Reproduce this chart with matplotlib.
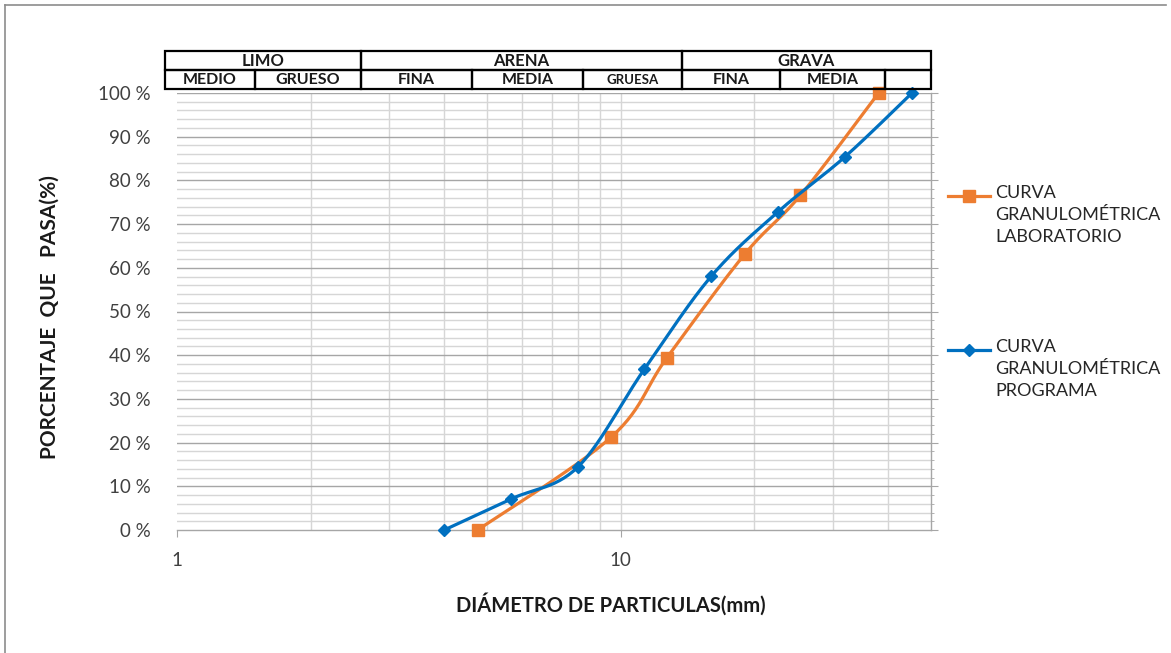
import matplotlib
matplotlib.use("Agg")
import matplotlib.pyplot as plt
import numpy as np
from matplotlib.lines import Line2D
from matplotlib.patches import Rectangle
from matplotlib.ticker import FixedLocator, NullFormatter

plt.rcParams['font.family'] = ['Lato', 'DejaVu Sans']

# sieve openings (mm) and percent passing
lab_d = [4.76, 9.525, 12.7, 19.05, 25.4, 38.1]
lab_pct = [0.0, 21.3, 39.4, 63.2, 76.6, 100.0]
prog_d = [4.0, 5.66, 8.0, 11.3, 16.0, 22.6, 32.0, 45.3]
prog_pct = [0.0, 7.1, 14.4, 36.8, 58.1, 72.8, 85.4, 100.0]

lab_label = "CURVA\nGRANULOMÉTRICA\nLABORATORIO"
prog_label = "CURVA\nGRANULOMÉTRICA\nPROGRAMA"

top_groups = ["LIMO", "ARENA", "GRAVA"]
sub_groups = ["MEDIO", "GRUESO", "FINA", "MEDIA", "GRUESA", "FINA", "MEDIA", ""]

ORANGE = "#ED7D31"
BLUE = "#0070C0"

W, H = 1171, 653


def fx(px):
    return px / W


def fy(py):
    return 1 - py / H


def smooth(xs, ys, n=30):
    # Excel-like smoothed line: Catmull-Rom bezier in screen-ish space (log x)
    u = np.log10(np.asarray(xs, float)) * 443.0
    v = np.asarray(ys, float) * 4.37
    P = np.column_stack([u, v])
    out = [P[0]]
    for i in range(len(P) - 1):
        p0 = P[i - 1] if i > 0 else P[i]
        p1, p2 = P[i], P[i + 1]
        p3 = P[i + 2] if i + 2 < len(P) else P[i + 1]
        c1 = p1 + (p2 - p0) / 6.0
        c2 = p2 - (p3 - p1) / 6.0
        t = np.linspace(0, 1, n)[1:, None]
        seg = ((1 - t) ** 3) * p1 + 3 * ((1 - t) ** 2) * t * c1 + 3 * (1 - t) * t ** 2 * c2 + t ** 3 * p2
        out.extend(seg)
    out = np.array(out)
    return 10 ** (out[:, 0] / 443.0), out[:, 1] / 4.37


fig = plt.figure(figsize=(W / 100, H / 100), dpi=100)
fig.patch.set_facecolor("white")

# chart area border (left and top)
fig.add_artist(Line2D([fx(5), fx(5)], [fy(5), 0], color="#8C8C8C", lw=1.2))
fig.add_artist(Line2D([fx(5), fx(1166)], [fy(5), fy(5)], color="#8C8C8C", lw=1.2))

ax = fig.add_axes([fx(177), fy(530), fx(931) - fx(177), fy(93) - fy(530)])
ax.set_xscale("log")
ax.set_xlim(1, 50)
ax.set_ylim(0, 100)

# grid
vgrid = [k * 10 ** e for e in range(0, 2) for k in range(1, 10)] + [20, 30, 40]
for g in sorted(set(vgrid)):
    if 1 < g < 50:
        ax.axvline(g, color="#D6D6D6", lw=1.0, zorder=0)
for yv in range(2, 101, 2):
    if yv % 10 == 0:
        ax.axhline(yv, color="#A6A6A6", lw=1.0, zorder=0.5)
    else:
        ax.axhline(yv, color="#D6D6D6", lw=1.0, zorder=0.3)

for s in ["left", "top"]:
    ax.spines[s].set_visible(False)
ax.spines["bottom"].set_color("#A6A6A6")
ax.spines["right"].set_color("#A6A6A6")
ax.spines["bottom"].set_linewidth(1.0)
ax.spines["right"].set_linewidth(1.0)

ax.yaxis.set_major_locator(FixedLocator(range(0, 101, 10)))
ax.yaxis.set_minor_locator(FixedLocator(range(2, 100, 2)))
ax.set_yticklabels([f"{v} %" for v in range(0, 101, 10)])
ax.tick_params(axis="y", which="both", left=False, right=True, labelleft=True,
               direction="out", color="#A6A6A6")
ax.tick_params(axis="y", which="major", length=5, pad=14, labelsize=13.5, labelcolor="#404040")
ax.tick_params(axis="y", which="minor", length=2.5)

ax.xaxis.set_major_locator(FixedLocator([1, 10]))
ax.set_xticklabels(["1", "10"])
ax.xaxis.set_minor_locator(FixedLocator([]))
ax.xaxis.set_minor_formatter(NullFormatter())
ax.tick_params(axis="x", which="major", length=5, pad=11, labelsize=13.5,
               labelcolor="#404040", color="#A6A6A6")

# curves
lx, ly = smooth(lab_d, lab_pct)
ax.plot(lx, ly, color=ORANGE, lw=2.3, zorder=3, clip_on=False)
ax.plot(lab_d, lab_pct, ls="none", marker="s", ms=8, color=ORANGE, zorder=4, clip_on=False)
px_, py_ = smooth(prog_d, prog_pct)
ax.plot(px_, py_, color=BLUE, lw=2.3, zorder=5, clip_on=False)
ax.plot(prog_d, prog_pct, ls="none", marker="D", ms=6.5, color=BLUE, zorder=6, clip_on=False)

# axis titles
fig.text(fx(611), fy(604), "DIÁMETRO DE PARTICULAS(mm)", ha="center", va="center",
         fontsize=14.5, fontweight="bold", color="#1a1a1a")
fig.text(fx(50), fy(317), "PORCENTAJE  QUE   PASA(%)", ha="center", va="center",
         rotation=90, fontsize=15, fontweight="bold", color="#1a1a1a")

# classification table above the plot
top_edges = [165, 361, 682, 931]
sub_edges = [165, 255, 361, 472, 583, 682, 780, 885, 931]
r0, r1, r2 = 51, 70, 89
for i, name in enumerate(top_groups):
    a, b = top_edges[i], top_edges[i + 1]
    fig.add_artist(Rectangle((fx(a), fy(r1)), fx(b) - fx(a), fy(r0) - fy(r1),
                             fill=False, ec="black", lw=1.6))
    fig.text(fx((a + b) / 2), fy((r0 + r1) / 2 + 1), name, ha="center", va="center",
             fontsize=12, fontweight="bold", color="#1a1a1a")
for i, name in enumerate(sub_groups):
    a, b = sub_edges[i], sub_edges[i + 1]
    fig.add_artist(Rectangle((fx(a), fy(r2)), fx(b) - fx(a), fy(r1) - fy(r2),
                             fill=False, ec="black", lw=1.6))
    if name:
        fs = 9.5 if name == "GRUESA" else 11.5
        fig.text(fx((a + b) / 2), fy((r1 + r2) / 2 + 1), name, ha="center", va="center",
                 fontsize=fs, fontweight="bold", color="#1a1a1a")

# legend drawn by hand so the handle sits on the first text line
for ytop, col, mk, ms, label in [(196, ORANGE, "s", 8, lab_label),
                                  (350, BLUE, "D", 6.5, prog_label)]:
    fig.add_artist(Line2D([fx(948), fx(990)], [fy(ytop), fy(ytop)], color=col, lw=2.3))
    fig.add_artist(Line2D([fx(969)], [fy(ytop)], color=col, marker=mk, ms=ms, ls="none"))
    fig.text(fx(995), fy(ytop - 11), label, ha="left", va="top", fontsize=13,
             color="#262626", linespacing=1.45)

fig.savefig("out.png", dpi=100, facecolor="white")
